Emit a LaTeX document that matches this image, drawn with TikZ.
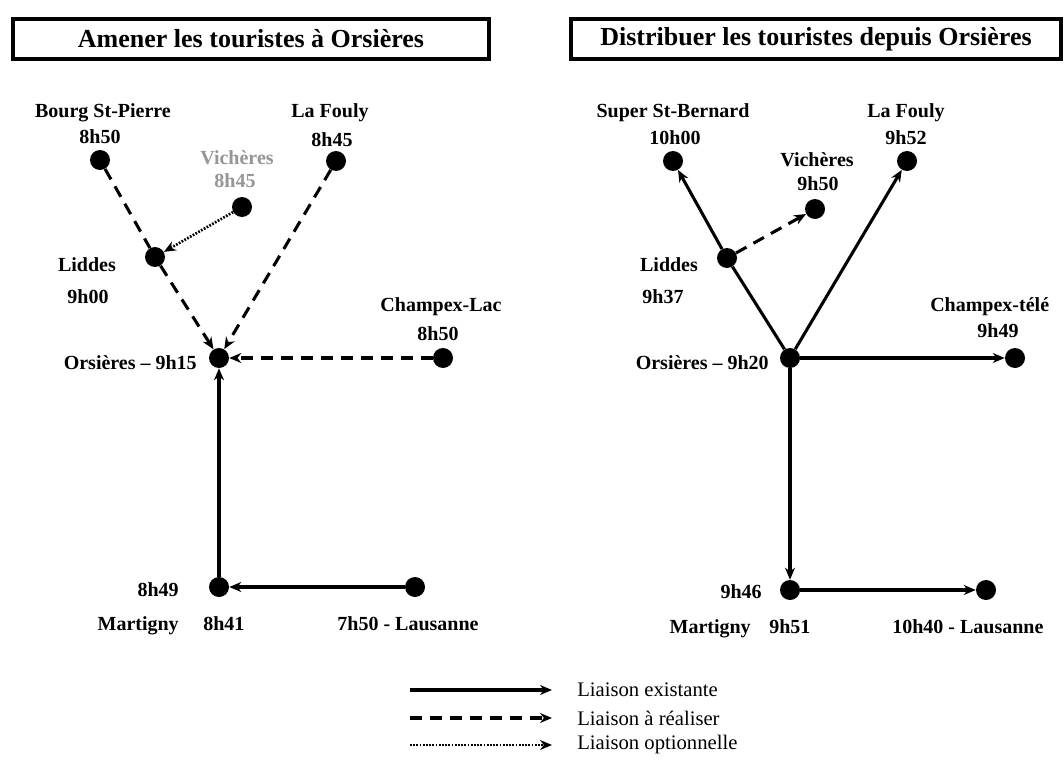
\documentclass[tikz,border=0pt]{standalone}
\usepackage{fontspec}
\setmainfont{Liberation Serif}
\usetikzlibrary{arrows.meta}
\definecolor{softgray}{RGB}{150,150,150}
\tikzset{
  stop/.style={circle,fill=black,inner sep=0pt,minimum size=15pt},
  lbl/.style={font=\fontsize{15}{17}\selectfont\bfseries,inner sep=0pt},
  lgd/.style={font=\fontsize{15.5}{18}\selectfont,inner sep=0pt,anchor=west},
  titlebox/.style={draw,line width=3pt,minimum height=30pt,inner sep=0pt,font=\fontsize{19.5}{22}\selectfont\bfseries},
  link/.style={line width=2.3pt},
  tip/.style={-{Stealth[length=9pt,width=7.5pt]}},
  existing/.style={link,tip},
  planned/.style={link,dash pattern=on 9pt off 6pt},
  optional/.style={link,line width=2pt,dash pattern=on 1.3pt off 1.1pt}
}
\begin{document}
\begin{tikzpicture}[x=0.75pt,y=-0.75pt]
\useasboundingbox (0,0) rectangle (1064,767);

% ---------- titles ----------
\node[titlebox,minimum width=357pt] (tL) at (251,39) {Amener les touristes à Orsières};
\node[titlebox,minimum width=367pt] (tR) at (816,39) {Distribuer les touristes depuis Orsières};

% ---------- left network: arrivals ----------
\node[stop] (bsp) at (100,160) {};
\node[stop] (lfL) at (336,161) {};
\node[stop] (viL) at (242,207) {};
\node[stop] (liL) at (155,257) {};
\node[stop] (orL) at (219,358) {};
\node[stop] (chL) at (443,358) {};
\node[stop] (maL) at (219,587) {};
\node[stop] (laL) at (415,587) {};

\node[lbl] (bspN) at (103,113) {Bourg St-Pierre};
\node[lbl] (bspT) at (100,137) {8h50};
\node[lbl] (lfLN) at (330,113) {La Fouly};
\node[lbl] (lfLT) at (332,140) {8h45};
\node[lbl,text=softgray] (viLN) at (237,158) {Vichères};
\node[lbl,text=softgray] (viLT) at (235,181) {8h45};
\node[lbl] (liLN) at (87,265) {Liddes};
\node[lbl] (liLT) at (88,297) {9h00};
\node[lbl,anchor=east] (orLN) at (197,363) {Orsières – 9h15};
\node[lbl] (chLN) at (441,307) {Champex-Lac};
\node[lbl] (chLT) at (438,334) {8h50};
\node[lbl,anchor=east] (maLT) at (179,590) {8h49};
\node[lbl,anchor=mid east] (maLN) at (179,627) {Martigny};
\node[lbl,anchor=mid west] (maLA) at (203,627) {8h41};
\node[lbl,anchor=mid] (laLN) at (408,627) {7h50 - Lausanne};

\draw[planned] (bsp) -- (liL);
\draw[planned,tip] (liL) -- (orL);
\draw[optional,tip] (viL) -- (liL);
\draw[planned,tip] (lfL) -- (orL);
\draw[planned,tip] (chL) -- (orL);
\draw[existing] (maL) -- (orL);
\draw[existing] (laL) -- (maL);

% ---------- right network: departures ----------
\node[stop] (ssb) at (673,161) {};
\node[stop] (viR) at (815,209) {};
\node[stop] (lfR) at (907,161) {};
\node[stop] (liR) at (727,258) {};
\node[stop] (orR) at (790,358) {};
\node[stop] (chR) at (1015,358) {};
\node[stop] (maR) at (790,590) {};
\node[stop] (laR) at (986,590) {};

\node[lbl] (ssbN) at (673,113) {Super St-Bernard};
\node[lbl] (ssbT) at (675,138) {10h00};
\node[lbl] (viRN) at (817,160) {Vichères};
\node[lbl] (viRT) at (818,184) {9h50};
\node[lbl] (lfRN) at (906,113) {La Fouly};
\node[lbl] (lfRT) at (906,138) {9h52};
\node[lbl] (liRN) at (669,265) {Liddes};
\node[lbl] (liRT) at (663,297) {9h37};
\node[lbl,anchor=east] (orRN) at (769,363) {Orsières – 9h20};
\node[lbl,anchor=west] (chRN) at (930,307) {Champex-télé};
\node[lbl] (chRT) at (998,331) {9h49};
\node[lbl,anchor=east] (maRT) at (762,592) {9h46};
\node[lbl,anchor=mid east] (maRN) at (751,630) {Martigny};
\node[lbl,anchor=mid west] (maRA) at (769,630) {9h51};
\node[lbl,anchor=mid west] (laRN) at (892,630) {10h40 - Lausanne};

\draw[link] (orR) -- (liR);
\draw[existing] (liR) -- (ssb);
\draw[planned,tip] (liR) -- (viR);
\draw[existing] (orR) -- (lfR);
\draw[existing] (orR) -- (chR);
\draw[existing] (orR) -- (maR);
\draw[existing] (maR) -- (laR);

% ---------- legend ----------
\coordinate (k1a) at (410,690); \coordinate (k1b) at (552,690);
\coordinate (k2a) at (410,718); \coordinate (k2b) at (552,718);
\coordinate (k3a) at (410,745); \coordinate (k3b) at (552,745);
\draw[existing] (k1a) -- (k1b);
\draw[planned,tip] (k2a) -- (k2b);
\draw[optional,tip] (k3a) -- (k3b);
\node[lgd] (k1t) at (577,690) {Liaison existante};
\node[lgd] (k2t) at (577,718) {Liaison à réaliser};
\node[lgd] (k3t) at (577,745) {Liaison optionnelle};
\end{tikzpicture}
\end{document}
